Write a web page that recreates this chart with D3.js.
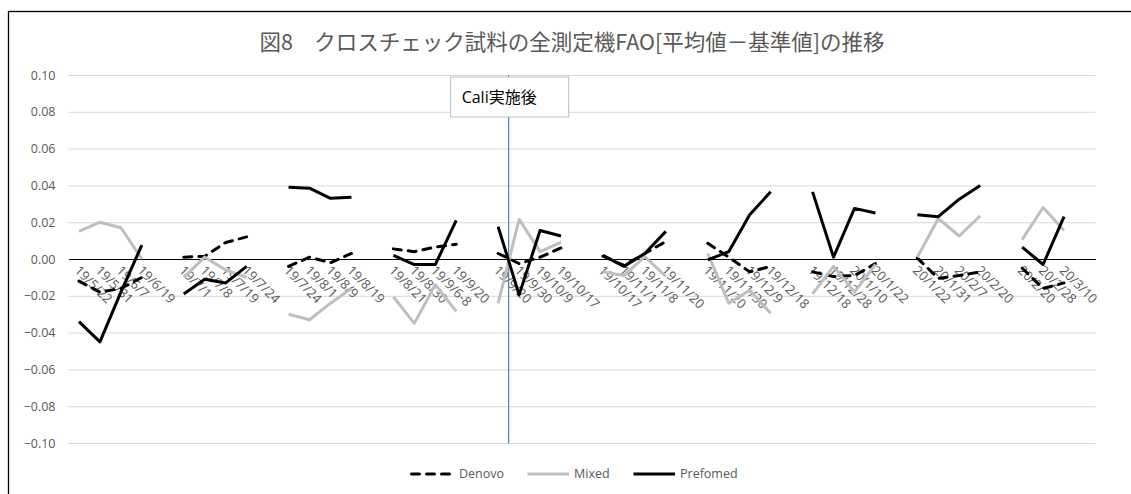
<!DOCTYPE html>
<html>
<head>
<meta charset="utf-8">
<script src="https://cdn.jsdelivr.net/npm/d3@7"></script>
<style>
  html, body { margin: 0; padding: 0; background: #fff; }
  svg { display: block; }
  text { font-family: "Open Sans", "Noto Sans", sans-serif; }
</style>
</head>
<body>
<svg id="chart" width="1131" height="494"></svg>
<script>
// Measurement dates; "" marks the blank slot between measurement rounds
const categories = [
  "19/5/22", "19/5/31", "19/6/7", "19/6/19", "",
  "19/7/1", "19/7/8", "19/7/19", "19/7/24", "",
  "19/7/24", "19/8/1", "19/8/9", "19/8/19", "",
  "19/8/21", "19/8/30", "19/9/6-8", "19/9/20", "",
  "19/9/20", "19/9/30", "19/10/9", "19/10/17", "",
  "19/10/17", "19/11/1", "19/11/8", "19/11/20", "",
  "19/11/20", "19/11/30", "19/12/9", "19/12/18", "",
  "19/12/18", "19/12/28", "20/1/10", "20/1/22", "",
  "20/1/22", "20/1/31", "20/2/7", "20/2/20", "",
  "20/2/20", "20/2/28", "20/3/10", ""
];

// FAO [mean - reference] per sample type (null = no measurement)
const denovo = [
  -0.012, -0.018, -0.016, -0.010, null,
  0.001, 0.0015, 0.009, 0.012, null,
  -0.004, 0.001, -0.002, 0.003, null,
  0.0055, 0.004, 0.0065, 0.008, null,
  0.003, -0.0025, 0.001, 0.006, null,
  0.0015, -0.0035, 0.003, 0.0095, null,
  0.0085, 0.001, -0.007, -0.004, null,
  -0.007, -0.0095, -0.009, -0.0025, null,
  0.0005, -0.0105, -0.009, -0.007, null,
  -0.005, -0.016, -0.013, null
];
const mixed = [
  0.015, 0.020, 0.017, 0.000, null,
  -0.010, 0.001, -0.006, -0.010, null,
  -0.030, -0.033, -0.024, -0.016, null,
  -0.0205, -0.035, -0.014, -0.0285, null,
  -0.024, 0.0215, 0.004, 0.009, null,
  -0.007, -0.009, 0.0013, -0.0095, null,
  0.003, -0.024, -0.017, -0.0295, null,
  -0.019, -0.004, -0.018, -0.003, null,
  0.001, 0.022, 0.0125, 0.0235, null,
  0.0105, 0.028, 0.0155, null
];
const prefomed = [
  -0.034, -0.045, -0.018, 0.0076, null,
  -0.019, -0.011, -0.013, -0.004, null,
  0.039, 0.0385, 0.033, 0.0335, null,
  0.002, -0.003, -0.003, 0.021, null,
  0.0175, -0.0195, 0.0155, 0.0125, null,
  0.002, -0.004, 0.003, 0.015, null,
  -0.0005, 0.004, 0.024, 0.0365, null,
  0.0365, 0.001, 0.0275, 0.025, null,
  0.024, 0.023, 0.0325, 0.040, null,
  0.0065, -0.003, 0.023, null
];

const yTicks = [-0.10, -0.08, -0.06, -0.04, -0.02, 0.00, 0.02, 0.04, 0.06, 0.08, 0.10];
const titleText = "図8　クロスチェック試料の全測定機FAO[平均値－基準値]の推移";
const calibrationLabel = "Cali実施後";
const calibrationAfter = 20;   // calibration falls between slot 20 and slot 21

const series = [
  { name: "Denovo",   values: denovo,   color: "#000000", dash: "8,7" },
  { name: "Mixed",    values: mixed,    color: "#bfbfbf", dash: null },
  { name: "Prefomed", values: prefomed, color: "#000000", dash: null }
];

const svg = d3.select("#chart");
const W = 1131, H = 494;
const plot = { left: 68.5, right: 1095.5, top: 75, bottom: 443 };

// chart frame
svg.append("rect")
  .attr("x", 8.5).attr("y", 11.5)
  .attr("width", W + 10).attr("height", H + 10)
  .attr("fill", "#fff").attr("stroke", "#000").attr("stroke-width", 1.3);

const x = d3.scaleBand()
  .domain(d3.range(categories.length))
  .range([plot.left, plot.right])
  .paddingInner(0).paddingOuter(0);
const xc = i => x(i) + x.bandwidth() / 2;

const y = d3.scaleLinear().domain([-0.10, 0.10]).range([plot.bottom, plot.top]);

// horizontal gridlines + value labels
const yAxis = d3.axisLeft(y)
  .tickValues(yTicks)
  .tickFormat(d3.format(".2f"))
  .tickSize(-(plot.right - plot.left))
  .tickPadding(13);
const gy = svg.append("g")
  .attr("transform", `translate(${plot.left},0)`)
  .call(yAxis);
gy.select(".domain").remove();
gy.selectAll(".tick line").attr("stroke", "#d9d9d9").attr("stroke-width", 1);
gy.selectAll(".tick text")
  .attr("fill", "#595959")
  .style("font-size", "12.5px")
  .style("font-family", "'Open Sans', sans-serif");

// category axis along zero
const gx = svg.append("g")
  .attr("transform", `translate(0,${y(0)})`)
  .call(d3.axisBottom(x).tickSize(0).tickFormat(""));
gx.select(".domain").attr("stroke", "#000").attr("stroke-width", 1.2);

svg.append("g").selectAll("text")
  .data(categories.map((c, i) => ({ c, i })).filter(d => d.c !== ""))
  .join("text")
  .attr("transform", d => `translate(${xc(d.i) - 2},${y(0) + 9}) rotate(45)`)
  .attr("dy", "0.35em")
  .attr("text-anchor", "start")
  .attr("fill", "#595959")
  .style("font-size", "13px")
  .text(d => d.c);

// calibration marker
const calX = x(calibrationAfter + 1);
svg.append("line")
  .attr("x1", calX).attr("x2", calX)
  .attr("y1", y(0.10)).attr("y2", y(-0.10))
  .attr("stroke", "#4a7ebb").attr("stroke-width", 1.2);

// series lines
const line = d3.line()
  .defined(d => d.v !== null)
  .x(d => xc(d.i))
  .y(d => y(d.v));

svg.append("g").selectAll("path")
  .data(series)
  .join("path")
  .attr("d", s => line(s.values.map((v, i) => ({ v, i }))))
  .attr("fill", "none")
  .attr("stroke", s => s.color)
  .attr("stroke-width", 3)
  .attr("stroke-linejoin", "round")
  .attr("stroke-linecap", s => s.dash ? "round" : "butt")
  .attr("stroke-dasharray", s => s.dash);

// annotation box
const boxW = 118, boxH = 40;
const box = svg.append("g").attr("transform", `translate(${calX - boxW / 2 + 1},${y(0.10) + 2})`);
box.append("rect")
  .attr("width", boxW).attr("height", boxH)
  .attr("fill", "#fff").attr("stroke", "#bfbfbf").attr("stroke-width", 1);
box.append("text")
  .attr("x", 11).attr("y", 26)
  .attr("fill", "#000")
  .style("font-size", "16px")
  .style("font-family", "'Open Sans', 'Noto Sans CJK JP', sans-serif")
  .text(calibrationLabel);

// title
svg.append("text")
  .attr("x", 572).attr("y", 50)
  .attr("text-anchor", "middle")
  .attr("fill", "#595959")
  .style("font-size", "21.5px")
  .style("font-family", "'Noto Sans CJK JP', sans-serif")
  .text(titleText);

// legend
const legendX = [410, 526, 632];
const lg = svg.append("g").selectAll("g")
  .data(series)
  .join("g")
  .attr("transform", (s, i) => `translate(${legendX[i]},474)`);
lg.append("line")
  .attr("x1", 1.5).attr("x2", 43)
  .attr("stroke", s => s.color)
  .attr("stroke-width", 3)
  .attr("stroke-linecap", s => s.dash ? "round" : "butt")
  .attr("stroke-dasharray", s => s.dash);
lg.append("text")
  .attr("x", (s, i) => i === 0 ? 49 : 48)
  .attr("dy", "0.35em")
  .attr("fill", "#595959")
  .style("font-size", "12.5px")
  .text(s => s.name);
</script>
</body>
</html>
